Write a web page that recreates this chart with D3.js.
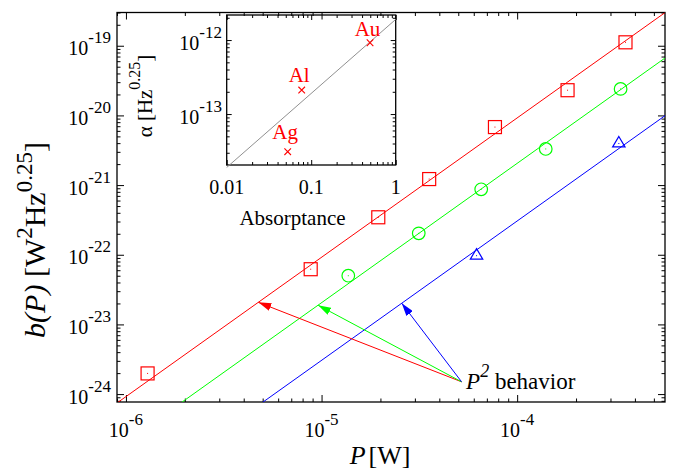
<!DOCTYPE html>
<html>
<head>
<meta charset="utf-8">
<script src="https://cdn.jsdelivr.net/npm/d3@7"></script>
<style>
  body { margin: 0; background: #fff; }
  svg, text { font-family: "Liberation Serif", "Times New Roman", serif; fill: #000; }
</style>
</head>
<body>
<svg id="chart" width="679" height="470" font-family="Liberation Serif"></svg>
<script>
/* global d3 */
'use strict';

// main panel: measured b(P) for the three metals
const powerAu = [1.29e-6, 8.8e-6, 1.95e-5, 3.55e-5, 7.7e-5, 1.81e-4, 3.58e-4];
const bAu     = [1.98e-24, 6.2e-23, 3.45e-22, 1.22e-21, 6.8e-21, 2.3e-20, 1.12e-19];
const powerAl = [1.37e-5, 3.14e-5, 6.55e-5, 1.4e-4, 3.38e-4];
const bAl     = [5.0e-23, 2.03e-22, 8.7e-22, 3.3e-21, 2.4e-20];
const powerAg = [6.2e-5, 3.31e-4];
const bAg     = [9.7e-23, 3.95e-21];

// b = alpha * P^2 fits, one per metal
const metals = ['Au', 'Al', 'Ag'];
const alphaFit = [9.2e-13, 2.05e-13, 3.05e-14];
const colors = ['#ff0000', '#00ff00', '#0000ff'];

// inset: alpha against absorptance
const absorptance = [0.497, 0.0772, 0.0527];
const alphaMeas = [9.2e-13, 2.11e-13, 3.1e-14];
const insetSlope = 1.9e-12;   // alpha = insetSlope * A

// "P^2 behavior" arrows: common start, tips sit on the fit lines
const arrowStart = [5.2e-5, 1.5e-24];
const arrowTipP = [4.75e-6, 9.6e-6, 2.57e-5];

const xMajor = [1e-6, 1e-5, 1e-4];
const yMajor = [1e-24, 1e-23, 1e-22, 1e-21, 1e-20, 1e-19];
const insetXMajor = [0.01, 0.1, 1];
const insetXLabels = ['0.01', '0.1', '1'];
const insetYMajor = [1e-13, 1e-12];

const svg = d3.select('#chart');
const box = {left: 117, top: 12.5, right: 665, bottom: 402};
const ibox = {left: 226.7, top: 15, right: 395.7, bottom: 165};

const x = d3.scaleLog().domain([9e-7, 5.7e-4]).range([box.left, box.right]);
const y = d3.scaleLog().domain([7.7e-25, 3e-19]).range([box.bottom, box.top]);
const xi = d3.scaleLog().domain([0.01, 1]).range([ibox.left, ibox.right]);
const yi = d3.scaleLog().domain([2.05e-14, 2.18e-12]).range([ibox.bottom, ibox.top]);

function isDecade(v) {
    const l = Math.log10(v);
    return Math.abs(l - Math.round(l)) < 1e-6;
}

// inward ticks on all four sides, major + minor
function frameTicks(g, sx, sy, b, majLen, minLen, xMaj, yMaj) {
    const xMin = sx.ticks().filter(v => !isDecade(v));
    const yMin = sy.ticks().filter(v => !isDecade(v));
    const sets = [
        [d3.axisBottom, sx, b.bottom, xMaj, xMin, true],
        [d3.axisTop, sx, b.top, xMaj, xMin, true],
        [d3.axisLeft, sy, b.left, yMaj, yMin, false],
        [d3.axisRight, sy, b.right, yMaj, yMin, false]
    ];
    sets.forEach(function (s) {
        [[s[3], majLen], [s[4], minLen]].forEach(function (t) {
            const ax = s[0](s[1]).tickValues(t[0]).tickSize(-t[1]).tickFormat('');
            const a = g.append('g')
                .attr('transform', s[5] ? 'translate(0,' + s[2] + ')' : 'translate(' + s[2] + ',0)')
                .call(ax);
            a.select('.domain').remove();
            a.selectAll('.tick line').attr('stroke', '#000').attr('stroke-width', 1);
        });
    });
    g.append('rect')
        .attr('x', b.left).attr('y', b.top)
        .attr('width', b.right - b.left).attr('height', b.bottom - b.top)
        .attr('fill', 'none').attr('stroke', '#000').attr('stroke-width', 1.3);
}

// "10" with a superscript exponent
function powText(t, v) {
    const e = Math.round(Math.log10(v));
    t.append('tspan').text('10');
    t.append('tspan').attr('dy', -12).attr('font-size', 17).text(String(e));
}

//
// main panel
//
svg.append('defs').append('clipPath').attr('id', 'clip')
    .append('rect')
    .attr('x', box.left).attr('y', box.top)
    .attr('width', box.right - box.left).attr('height', box.bottom - box.top);

frameTicks(svg.append('g'), x, y, box, 7, 3.5, xMajor, yMajor);

svg.append('g').selectAll('text').data(yMajor).join('text')
    .attr('x', 111).attr('y', d => y(d) + 9.5)
    .attr('text-anchor', 'end').attr('font-size', 20)
    .each(function (d) { powText(d3.select(this), d); });

svg.append('g').selectAll('text').data(xMajor).join('text')
    .attr('x', d => x(d)).attr('y', 437)
    .attr('text-anchor', 'middle').attr('font-size', 20)
    .each(function (d) { powText(d3.select(this), d); });

// fit lines
const plot = svg.append('g').attr('clip-path', 'url(#clip)');
const pLine = d3.line().x(d => x(d[0])).y(d => y(d[1]));
alphaFit.forEach(function (a, i) {
    const ends = x.domain().map(p => [p, a * p * p]);
    plot.append('path').datum(ends)
        .attr('d', pLine).attr('fill', 'none')
        .attr('stroke', colors[i]).attr('stroke-width', 1);
});

// markers
function dots(g, px, py, col) {
    g.selectAll('rect.dot').data(px).join('rect').attr('class', 'dot')
        .attr('x', (d, i) => x(d) - 0.5).attr('y', (d, i) => y(py[i]) - 0.5)
        .attr('width', 1).attr('height', 1).attr('fill', col);
}
const gAu = svg.append('g');
gAu.selectAll('rect.sq').data(powerAu).join('rect').attr('class', 'sq')
    .attr('x', d => x(d) - 6.5).attr('y', (d, i) => y(bAu[i]) - 6.5)
    .attr('width', 13).attr('height', 13)
    .attr('fill', 'none').attr('stroke', colors[0]).attr('stroke-width', 1.2);
dots(gAu, powerAu, bAu, colors[0]);

const gAl = svg.append('g');
gAl.selectAll('circle').data(powerAl).join('circle')
    .attr('cx', d => x(d)).attr('cy', (d, i) => y(bAl[i])).attr('r', 6.3)
    .attr('fill', 'none').attr('stroke', colors[1]).attr('stroke-width', 1.2);
dots(gAl, powerAl, bAl, colors[1]);

const gAg = svg.append('g');
gAg.selectAll('path').data(powerAg).join('path')
    .attr('transform', (d, i) => 'translate(' + x(d) + ',' + y(bAg[i]) + ')')
    .attr('d', 'M0,-7L6.2,3.4L-6.2,3.4Z')
    .attr('fill', 'none').attr('stroke', colors[2]).attr('stroke-width', 1.2);
dots(gAg, powerAg, bAg, colors[2]);

// arrows
const defs = svg.select('defs');
colors.forEach(function (c, i) {
    defs.append('marker').attr('id', 'head' + i)
        .attr('markerUnits', 'userSpaceOnUse')
        .attr('markerWidth', 13).attr('markerHeight', 8)
        .attr('refX', 13).attr('refY', 4).attr('orient', 'auto')
        .append('path').attr('d', 'M0,0L13,4L0,8Z').attr('fill', c);
});
svg.append('g').selectAll('line').data(arrowTipP).join('line')
    .attr('x1', x(arrowStart[0])).attr('y1', y(arrowStart[1]))
    .attr('x2', d => x(d)).attr('y2', (d, i) => y(alphaFit[i] * d * d))
    .attr('stroke', (d, i) => colors[i]).attr('stroke-width', 1)
    .attr('marker-end', (d, i) => 'url(#head' + i + ')');

const ann = svg.append('text')
    .attr('x', x(arrowStart[0]) + 4.5).attr('y', y(arrowStart[1]) + 7)
    .attr('font-size', 23);
ann.append('tspan').attr('font-style', 'italic').text('P');
ann.append('tspan').attr('dy', -12).attr('font-size', 18).attr('font-style', 'italic').text('2');
ann.append('tspan').attr('dy', 12).text(' behavior');

// axis titles
const yt = svg.append('text')
    .attr('transform', 'translate(45,240) rotate(-90)')
    .attr('text-anchor', 'middle').attr('font-size', 30);
yt.append('tspan').attr('font-style', 'italic').text('b(P)');
yt.append('tspan').text(' [W');
yt.append('tspan').attr('dy', -13).attr('font-size', 23).text('2');
yt.append('tspan').attr('dy', 13).text('Hz');
yt.append('tspan').attr('dy', -13).attr('font-size', 23).text('0.25');
yt.append('tspan').attr('dy', 13).text(']');

const xt = svg.append('text')
    .attr('x', 380).attr('y', 464)
    .attr('text-anchor', 'middle').attr('font-size', 26);
xt.append('tspan').attr('font-style', 'italic').text('P');
xt.append('tspan').attr('dx', 3).text('[W]');

//
// inset
//
const gi = svg.append('g');
frameTicks(gi, xi, yi, ibox, 5, 3, insetXMajor, insetYMajor);

gi.append('path')
    .datum(xi.domain().map(a => [a, insetSlope * a]))
    .attr('d', d3.line().x(d => xi(d[0])).y(d => yi(d[1])))
    .attr('fill', 'none').attr('stroke', '#909090').attr('stroke-width', 1);

gi.append('g').selectAll('path').data(absorptance).join('path')
    .attr('transform', (d, i) => 'translate(' + xi(d) + ',' + yi(alphaMeas[i]) + ')')
    .attr('d', 'M-3.3,-3.3L3.3,3.3M-3.3,3.3L3.3,-3.3')
    .attr('stroke', colors[0]).attr('stroke-width', 1.1);

const labelDy = [-6.5, -8.5, -12.5];
gi.append('g').selectAll('text').data(metals).join('text')
    .attr('x', (d, i) => xi(absorptance[i]) - 2.5)
    .attr('y', (d, i) => yi(alphaMeas[i]) + labelDy[i])
    .attr('text-anchor', 'middle').attr('font-size', 21)
    .style('fill', colors[0])
    .text(d => d);

gi.append('g').selectAll('text').data(insetXMajor).join('text')
    .attr('x', d => xi(d)).attr('y', 194)
    .attr('text-anchor', 'middle').attr('font-size', 20)
    .text((d, i) => insetXLabels[i]);

gi.append('g').selectAll('text').data(insetYMajor).join('text')
    .attr('x', 222).attr('y', d => yi(d) + 9.5)
    .attr('text-anchor', 'end').attr('font-size', 20)
    .each(function (d) { powText(d3.select(this), d); });

gi.append('text')
    .attr('x', 292.5).attr('y', 225)
    .attr('text-anchor', 'middle').attr('font-size', 21)
    .text('Absorptance');

const it = gi.append('text')
    .attr('transform', 'translate(152,96) rotate(-90)')
    .attr('text-anchor', 'middle').attr('font-size', 21);
it.append('tspan').text('\u03b1 [Hz');
it.append('tspan').attr('dy', -12).attr('font-size', 16).text('0.25');
it.append('tspan').attr('dy', 12).text(']');
</script>
</body>
</html>
